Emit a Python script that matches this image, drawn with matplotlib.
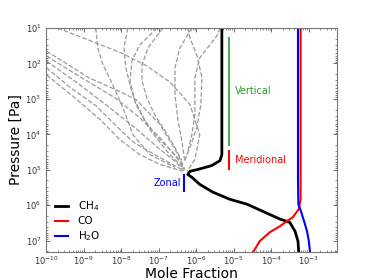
import numpy as np
import matplotlib

matplotlib.use("Agg")
import matplotlib.pyplot as plt

# species profiles: log10(mole fraction), log10(pressure [Pa])
ch4_logx = [-5.32, -5.32, -5.37, -5.59, -5.96, -6.17, -6.23, -6.12, -5.91, -5.56,
            -5.11, -4.65, -4.23, -3.77, -3.51, -3.37, -3.29, -3.27]
ch4_logp = [1.0, 4.57, 4.74, 4.88, 4.99, 5.04, 5.13, 5.21, 5.41, 5.63,
            5.83, 5.97, 6.17, 6.39, 6.48, 6.73, 7.01, 7.31]
co_logx = [-3.22, -3.22, -3.27, -3.43, -3.59, -3.77, -4.04, -4.31, -4.48]
co_logp = [1.0, 5.83, 6.11, 6.34, 6.45, 6.59, 6.76, 7.01, 7.31]
h2o_logx = [-3.29, -3.29, -3.28, -3.21, -3.16, -3.11, -3.05, -3.00, -2.97]
h2o_logp = [1.0, 5.27, 5.97, 6.17, 6.34, 6.51, 6.73, 7.01, 7.31]

# gray dashed reference curves (log10 x, log10 p)
dashed_logx = [
    [-10.0, -8.87, -8.09, -7.61, -6.97, -6.49, -6.31],
    [-10.0, -8.97, -8.17, -7.51, -6.92, -6.49, -6.31],
    [-10.0, -9.11, -8.31, -7.64, -7.03, -6.57, -6.33],
    [-10.0, -9.35, -8.68, -8.09, -7.67, -7.03, -6.39],
    [-10.0, -9.24, -8.57, -8.04, -7.51, -6.97, -6.36],
    [-9.70, -8.68, -8.01, -7.37, -6.71, -6.17, -5.91, -6.04, -6.25],
    [-8.68, -8.63, -8.49, -8.23, -7.96, -7.69, -7.24, -6.57],
    [-7.83, -7.93, -7.88, -7.75, -7.61, -7.24, -6.71, -6.36],
    [-6.89, -7.29, -7.45, -7.45, -7.32, -7.11, -6.84, -6.57, -6.39],
    [-7.05, -7.51, -7.72, -7.77, -7.64, -7.37, -7.03, -6.57, -6.36],
    [-6.12, -6.44, -6.57, -6.57, -6.49, -6.39, -6.31],
    [-6.23, -6.17, -5.99, -5.85, -5.88, -5.99, -6.17, -6.31],
    [-5.37, -5.45, -5.91, -6.04, -6.04, -6.12, -6.25],
]
dashed_logp = [
    [1.65, 2.40, 2.77, 3.02, 3.72, 4.57, 4.99],
    [1.79, 2.46, 2.97, 3.53, 4.15, 4.71, 4.99],
    [1.93, 2.60, 3.25, 3.81, 4.37, 4.76, 5.02],
    [2.12, 2.69, 3.19, 3.81, 4.23, 4.62, 4.99],
    [2.32, 2.97, 3.58, 4.15, 4.57, 4.85, 5.04],
    [1.0, 1.42, 1.70, 2.04, 2.52, 3.16, 4.01, 4.71, 5.04],
    [1.0, 1.56, 2.04, 2.60, 3.25, 4.01, 4.57, 4.93],
    [1.0, 1.56, 2.12, 2.69, 3.16, 3.87, 4.57, 4.93],
    [1.0, 1.56, 2.04, 2.49, 2.97, 3.45, 3.89, 4.37, 4.74],
    [1.0, 1.48, 1.93, 2.49, 3.05, 3.61, 4.09, 4.57, 4.85],
    [1.0, 1.56, 2.12, 2.88, 3.61, 4.17, 4.74],
    [1.0, 1.28, 1.76, 2.40, 3.16, 3.81, 4.37, 4.74],
    [1.0, 1.22, 1.84, 2.40, 3.44, 4.01, 4.57],
]

# mixing-regime markers: name, x, p_top, p_bottom, line colour, text colour
regimes = [
    ("Vertical", 7.4e-6, 10**1.28, 10**4.29, "#4caf50", "#2a9a2a"),
    ("Meridional", 7.4e-6, 10**4.47, 10**4.99, "red", "red"),
    ("Zonal", 4.7e-7, 10**5.16, 10**5.60, "blue", "blue"),
]
label_p = {"Vertical": 10**2.77, "Meridional": 10**4.73, "Zonal": 10**5.36}

fig = plt.figure(figsize=(3.74, 2.80), dpi=100)
ax = fig.add_axes([0.124, 0.101, 0.776, 0.799])

for lx, lp in zip(dashed_logx, dashed_logp):
    ax.plot(10**np.array(lx), 10**np.array(lp), "--", color="#9a9a9a", lw=0.9)

ax.plot(10**np.array(ch4_logx), 10**np.array(ch4_logp), color="black", lw=2, label=r"CH$_4$")
ax.plot(10**np.array(co_logx), 10**np.array(co_logp), color="red", lw=1.5, label="CO")
ax.plot(10**np.array(h2o_logx), 10**np.array(h2o_logp), color="blue", lw=1.5, label=r"H$_2$O")

for name, x, p0, p1, lc, tc in regimes:
    ax.plot([x, x], [p0, p1], color=lc, lw=1.5)
    if name == "Zonal":
        ax.text(x * 0.84, label_p[name], name, color=tc, fontsize=7, ha="right", va="center")
    else:
        ax.text(x * 1.45, label_p[name], name, color=tc, fontsize=7, ha="left", va="center")

ax.set_xscale("log")
ax.set_yscale("log")
ax.set_xlim(1e-10, 10**-2.26)
ax.set_ylim(10**7.31, 10**1)
ax.set_xlabel("Mole Fraction", fontsize=10, labelpad=0)
ax.set_ylabel("Pressure [Pa]", fontsize=10, labelpad=2)
ax.tick_params(which="both", direction="in", top=True, right=True, labelsize=6,
               color="#555555", labelcolor="#333333")
ax.tick_params(axis="x", which="major", pad=2)
ax.tick_params(which="major", length=3, width=0.6)
ax.tick_params(which="minor", length=1.5, width=0.5)
for sp in ax.spines.values():
    sp.set_color("#777777")
    sp.set_linewidth(0.8)

ax.legend(loc="lower left", frameon=False, fontsize=7.5, handlelength=1.3,
          borderaxespad=0.4, labelspacing=0.3, handletextpad=0.9)

fig.savefig("out.png", dpi=100)
